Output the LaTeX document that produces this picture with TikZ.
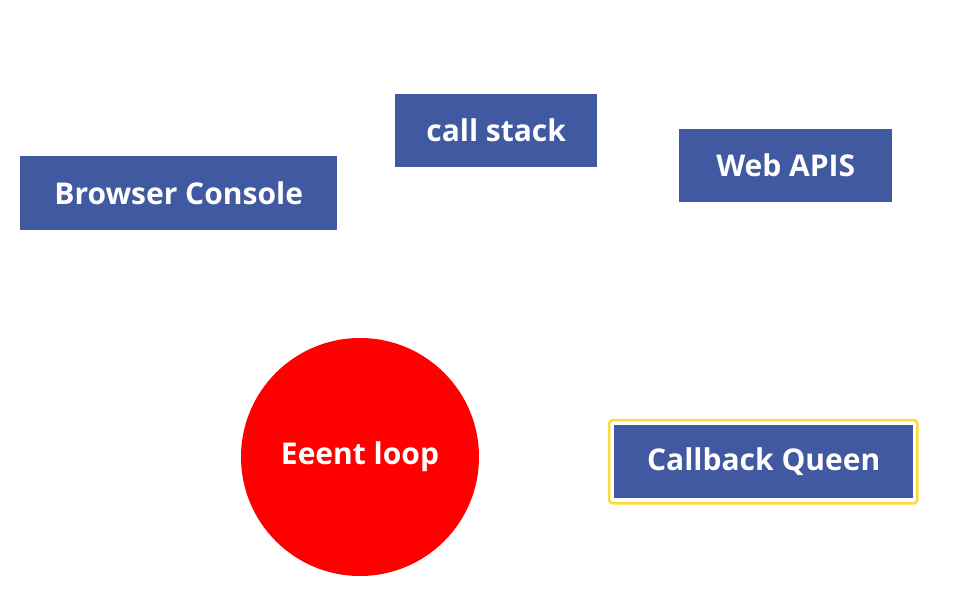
\documentclass[tikz,border=0pt]{standalone}
\usepackage{fontspec}
\setmainfont{Open Sans}
\definecolor{boxblue}{RGB}{65,89,160}
\definecolor{qyellow}{RGB}{255,216,58}
\definecolor{loopred}{RGB}{255,0,0}
\begin{document}
\begin{tikzpicture}[x=1pt,y=-1pt,
  lbl/.style={text=white,font=\bfseries\fontsize{30}{36}\selectfont},
  bluebox/.style={lbl,fill=boxblue,draw=none,inner sep=0pt,anchor=north west}]
\useasboundingbox (0,0) rectangle (961,594);
\fill[white] (0,0) rectangle (961,594);
\node[bluebox,minimum width=317pt,minimum height=74pt] (console) at (20,156) {Browser Console};
\node[bluebox,minimum width=202pt,minimum height=73pt] (stack) at (395,94) {call stack};
\node[bluebox,minimum width=213pt,minimum height=73pt] (apis) at (679,129) {Web APIS};
\node[bluebox,minimum width=299pt,minimum height=73pt] (queue) at (614,425) {Callback Queen};
\draw[qyellow,line width=2.5pt,rounded corners=4pt] ([shift={(-5,-5)}]queue.north west) rectangle ([shift={(4,5)}]queue.south east);
\node[lbl,circle,fill=loopred,minimum size=238pt,inner sep=0pt] (loop) at (360,457) {Eeent loop};
\end{tikzpicture}
\end{document}
